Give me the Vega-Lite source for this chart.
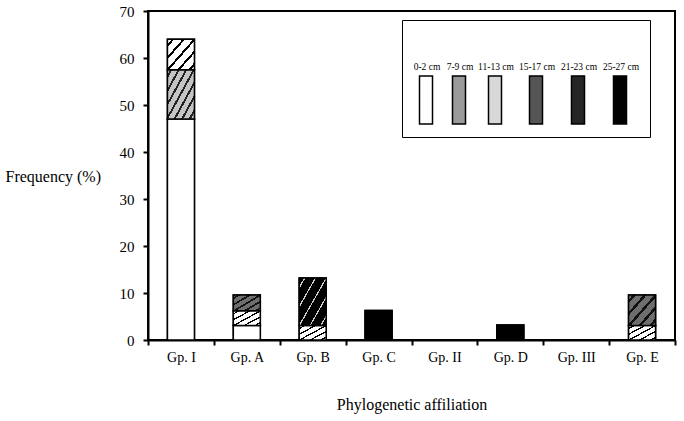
{
  "$schema": "https://vega.github.io/schema/vega-lite/v6.json",
  "autosize": {"type": "none"},
  "width": 527,
  "height": 329,
  "padding": {"left": 148, "top": 11, "right": 9, "bottom": 81},
  "background": "white",
  "config": {
    "font": "Liberation Serif",
    "view": {"stroke": "black", "strokeWidth": 2},
    "axis": {
      "domainColor": "black", "tickColor": "black", "labelColor": "black", "titleColor": "black",
      "grid": false, "domainWidth": 2, "tickWidth": 2,
      "labelFont": "Liberation Serif", "titleFont": "Liberation Serif",
      "labelFontSize": 14, "titleFontSize": 16, "titleFontWeight": "normal"
    },
    "legend": {"labelFont": "Liberation Serif", "titleFont": "Liberation Serif"}
  },
  "data": {"values": [
    {"group": "Gp. I", "depth": "0-2 cm", "k": 1, "freq": 47},
    {"group": "Gp. I", "depth": "7-9 cm", "k": 2, "freq": 10.5},
    {"group": "Gp. I", "depth": "11-13 cm", "k": 3, "freq": 6.5},
    {"group": "Gp. A", "depth": "0-2 cm", "k": 1, "freq": 3.1},
    {"group": "Gp. A", "depth": "11-13 cm", "k": 3, "freq": 3.1},
    {"group": "Gp. A", "depth": "15-17 cm", "k": 4, "freq": 3.4},
    {"group": "Gp. B", "depth": "11-13 cm", "k": 3, "freq": 3.1},
    {"group": "Gp. B", "depth": "21-23 cm", "k": 5, "freq": 10.1},
    {"group": "Gp. C", "depth": "25-27 cm", "k": 6, "freq": 6.3},
    {"group": "Gp. D", "depth": "25-27 cm", "k": 6, "freq": 3.2},
    {"group": "Gp. E", "depth": "11-13 cm", "k": 3, "freq": 3.1},
    {"group": "Gp. E", "depth": "15-17 cm", "k": 4, "freq": 6.5}
  ]},
  "encoding": {
    "x": {
      "field": "group", "type": "nominal",
      "scale": {"domain": ["Gp. I", "Gp. A", "Gp. B", "Gp. C", "Gp. II", "Gp. D", "Gp. III", "Gp. E"], "paddingInner": 0, "paddingOuter": 0},
      "axis": {"title": "Phylogenetic affiliation", "labelAngle": 0, "tickBand": "extent", "tickSize": 5, "labelPadding": 5, "titleY": 69, "titleBaseline": "alphabetic"}
    },
    "y": {
      "field": "freq", "type": "quantitative", "stack": "zero",
      "scale": {"domain": [0, 70], "nice": false},
      "axis": {"title": "Frequency (%)", "values": [0, 10, 20, 30, 40, 50, 60, 70], "tickSize": 5, "labelPadding": 9, "labelFontSize": 15,
        "titleAngle": 0, "titleAlign": "left", "titleX": -143, "titleY": 170, "titleBaseline": "alphabetic"}
    },
    "order": {"field": "k", "type": "quantitative"}
  },
  "layer": [
    {
      "mark": {"type": "bar", "width": 27, "stroke": "black", "strokeWidth": 1.5},
      "encoding": {
        "color": {
          "field": "depth", "type": "nominal",
          "scale": {
            "domain": ["0-2 cm", "7-9 cm", "11-13 cm", "15-17 cm", "21-23 cm", "25-27 cm"],
            "range": ["white", "#9a9a9a", "#d8d8d8", "#555555", "#262626", "black"]
          },
          "legend": {
            "orient": "none", "legendX": 254, "legendY": 9, "direction": "horizontal", "columns": 6,
            "title": " ", "titleFontSize": 14, "titlePadding": 14,
            "strokeColor": "black", "fillColor": "white", "padding": 10,
            "symbolType": "M-0.5,0.3H0.5V4H-0.5Z", "symbolSize": 676, "symbolStrokeColor": "black", "symbolStrokeWidth": 1.5, "symbolOpacity": 1,
            "labelFontSize": 9.5, "labelColor": "black", "labelAlign": "center", "labelBaseline": "bottom", "labelOffset": -13,
            "columnPadding": 4
          }
        }
      }
    },
    {
      "mark": {"type": "bar", "width": 27, "stroke": "black", "strokeWidth": 1.5},
      "encoding": {
        "detail": {"field": "depth", "type": "nominal"},
        "fill": {
          "condition": [
            {"test": "datum.depth === '7-9 cm'", "value": {"gradient": "linear", "x1": 0, "y1": 0, "x2": 1, "y2": 1, "stops": [
                {"offset": 0, "color": "#c4c4c4"},
                {"offset": 0.05, "color": "#c4c4c4"}, {"offset": 0.05, "color": "#222"}, {"offset": 0.09, "color": "#222"}, {"offset": 0.09, "color": "#c4c4c4"},
                {"offset": 0.19, "color": "#c4c4c4"}, {"offset": 0.19, "color": "#222"}, {"offset": 0.23, "color": "#222"}, {"offset": 0.23, "color": "#c4c4c4"},
                {"offset": 0.33, "color": "#c4c4c4"}, {"offset": 0.33, "color": "#222"}, {"offset": 0.37, "color": "#222"}, {"offset": 0.37, "color": "#c4c4c4"},
                {"offset": 0.47, "color": "#c4c4c4"}, {"offset": 0.47, "color": "#222"}, {"offset": 0.51, "color": "#222"}, {"offset": 0.51, "color": "#c4c4c4"},
                {"offset": 0.61, "color": "#c4c4c4"}, {"offset": 0.61, "color": "#222"}, {"offset": 0.65, "color": "#222"}, {"offset": 0.65, "color": "#c4c4c4"},
                {"offset": 0.75, "color": "#c4c4c4"}, {"offset": 0.75, "color": "#222"}, {"offset": 0.79, "color": "#222"}, {"offset": 0.79, "color": "#c4c4c4"},
                {"offset": 0.89, "color": "#c4c4c4"}, {"offset": 0.89, "color": "#222"}, {"offset": 0.93, "color": "#222"}, {"offset": 0.93, "color": "#c4c4c4"},
                {"offset": 1, "color": "#c4c4c4"}
              ]}},
            {"test": "datum.depth === '11-13 cm'", "value": {"gradient": "linear", "x1": 0, "y1": 0, "x2": 1, "y2": 1, "stops": [
                {"offset": 0, "color": "white"},
                {"offset": 0.08, "color": "white"}, {"offset": 0.08, "color": "black"}, {"offset": 0.13, "color": "black"}, {"offset": 0.13, "color": "white"},
                {"offset": 0.28, "color": "white"}, {"offset": 0.28, "color": "black"}, {"offset": 0.33, "color": "black"}, {"offset": 0.33, "color": "white"},
                {"offset": 0.48, "color": "white"}, {"offset": 0.48, "color": "black"}, {"offset": 0.53, "color": "black"}, {"offset": 0.53, "color": "white"},
                {"offset": 0.68, "color": "white"}, {"offset": 0.68, "color": "black"}, {"offset": 0.73, "color": "black"}, {"offset": 0.73, "color": "white"},
                {"offset": 0.88, "color": "white"}, {"offset": 0.88, "color": "black"}, {"offset": 0.93, "color": "black"}, {"offset": 0.93, "color": "white"},
                {"offset": 1, "color": "white"}
              ]}},
            {"test": "datum.depth === '15-17 cm'", "value": {"gradient": "linear", "x1": 0, "y1": 0, "x2": 1, "y2": 1, "stops": [
                {"offset": 0, "color": "#6e6e6e"},
                {"offset": 0.08, "color": "#6e6e6e"}, {"offset": 0.08, "color": "#111"}, {"offset": 0.14, "color": "#111"}, {"offset": 0.14, "color": "#6e6e6e"},
                {"offset": 0.28, "color": "#6e6e6e"}, {"offset": 0.28, "color": "#111"}, {"offset": 0.34, "color": "#111"}, {"offset": 0.34, "color": "#6e6e6e"},
                {"offset": 0.48, "color": "#6e6e6e"}, {"offset": 0.48, "color": "#111"}, {"offset": 0.54, "color": "#111"}, {"offset": 0.54, "color": "#6e6e6e"},
                {"offset": 0.68, "color": "#6e6e6e"}, {"offset": 0.68, "color": "#111"}, {"offset": 0.74, "color": "#111"}, {"offset": 0.74, "color": "#6e6e6e"},
                {"offset": 0.88, "color": "#6e6e6e"}, {"offset": 0.88, "color": "#111"}, {"offset": 0.94, "color": "#111"}, {"offset": 0.94, "color": "#6e6e6e"},
                {"offset": 1, "color": "#6e6e6e"}
              ]}},
            {"test": "datum.depth === '21-23 cm'", "value": {"gradient": "linear", "x1": 0, "y1": 0, "x2": 1, "y2": 1, "stops": [
                {"offset": 0, "color": "black"},
                {"offset": 0.09, "color": "black"}, {"offset": 0.09, "color": "#cfcfcf"}, {"offset": 0.115, "color": "#cfcfcf"}, {"offset": 0.115, "color": "black"},
                {"offset": 0.29, "color": "black"}, {"offset": 0.29, "color": "#cfcfcf"}, {"offset": 0.315, "color": "#cfcfcf"}, {"offset": 0.315, "color": "black"},
                {"offset": 0.49, "color": "black"}, {"offset": 0.49, "color": "#cfcfcf"}, {"offset": 0.515, "color": "#cfcfcf"}, {"offset": 0.515, "color": "black"},
                {"offset": 0.69, "color": "black"}, {"offset": 0.69, "color": "#cfcfcf"}, {"offset": 0.715, "color": "#cfcfcf"}, {"offset": 0.715, "color": "black"},
                {"offset": 0.89, "color": "black"}, {"offset": 0.89, "color": "#cfcfcf"}, {"offset": 0.915, "color": "#cfcfcf"}, {"offset": 0.915, "color": "black"},
                {"offset": 1, "color": "black"}
              ]}},
            {"test": "datum.depth === '25-27 cm'", "value": "black"}
          ],
          "value": "white"
        }
      }
    }
  ]
}
